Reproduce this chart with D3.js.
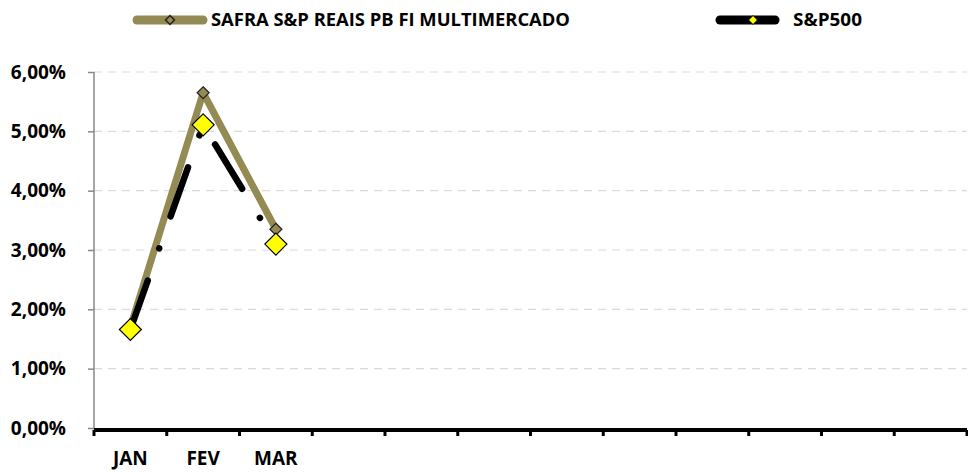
<!DOCTYPE html>
<html><head><meta charset="utf-8">
<script src="https://cdn.jsdelivr.net/npm/d3@7"></script>
<style>body{margin:0;background:#fff}svg{display:block}text{font-family:"Open Sans",sans-serif;font-weight:700;fill:#000}</style>
</head><body>
<svg id="c" width="968" height="472"></svg>
<script>
const months = ["JAN","FEV","MAR","ABR","MAI","JUN","JUL","AGO","SET","OUT","NOV","DEZ"];
const monthLabels = ["JAN","FEV","MAR","","","","","","","","",""];
const safra = [1.70, 5.65, 3.35];
const sp500 = [1.66, 5.11, 3.10];
const yTicks = [0,1,2,3,4,5,6];
const seriesNames = ["SAFRA S&P REAIS PB FI MULTIMERCADO","S&P500"];

const svg = d3.select("#c");
const x = d3.scaleBand().domain(months).range([94, 967]);
const y = d3.scaleLinear().domain([0,6]).range([428, 72]);
const fmt = v => v.toFixed(2).replace(".", ",") + "%";

// gridlines
svg.append("g").selectAll("line").data(yTicks.filter(d=>d>0)).join("line")
  .attr("x1",94).attr("x2",967).attr("y1",d=>y(d)).attr("y2",d=>y(d))
  .attr("stroke","#d9d9d9").attr("stroke-width",1.2).attr("stroke-dasharray","8,6");

// y axis
const ya = svg.append("g").attr("transform","translate(94,0)").call(d3.axisLeft(y).tickValues(yTicks).tickFormat(fmt).tickSize(6).tickPadding(22));
ya.select(".domain").attr("stroke","#888").attr("stroke-width",1.5).attr("d","M0,72V428");
ya.selectAll(".tick line").attr("stroke","#888").attr("stroke-width",1.5);
ya.selectAll(".tick text").style("font-size","19px").attr("fill","#000");

// x axis
const xa = svg.append("g").attr("transform","translate(0,430)");
xa.append("line").attr("x1",94).attr("x2",967).attr("stroke","#000").attr("stroke-width",4);
const bounds = months.map(m=>x(m)).concat([x.range()[1]]);
xa.selectAll(".tk").data(bounds).join("line").attr("class","tk")
  .attr("x1",d=>d).attr("x2",d=>d).attr("y1",0).attr("y2",6).attr("stroke","#000").attr("stroke-width",3);
xa.selectAll(".lb").data(months).join("text").attr("class","lb")
  .attr("x",d=>x(d)+x.bandwidth()/2).attr("y",35).attr("text-anchor","middle").style("font-size","19px")
  .text((d,i)=>monthLabels[i]);

const cx = (d,i)=>x(months[i])+x.bandwidth()/2;
const line = d3.line().x(cx).y(d=>y(d));
const diamond = (s)=>`M0,${-s}L${s},0L0,${s}L${-s},0Z`;

// safra line
svg.append("path").datum(safra).attr("d",line).attr("fill","none")
  .attr("stroke","#948A54").attr("stroke-width",7).attr("stroke-linejoin","round");
// sp line
svg.append("path").datum(sp500).attr("d",line).attr("fill","none")
  .attr("stroke","#000").attr("stroke-width",6.5).attr("stroke-linecap","round")
  .attr("stroke-dasharray","52,34,0.1,34");
// safra markers
svg.append("g").selectAll("path").data(safra).join("path")
  .attr("transform",(d,i)=>`translate(${cx(d,i)},${y(d)})`).attr("d",diamond(6))
  .attr("fill","#948A54").attr("stroke","#222").attr("stroke-width",1.2);
// sp markers
svg.append("g").selectAll("path").data(sp500).join("path")
  .attr("transform",(d,i)=>`translate(${cx(d,i)},${y(d)})`).attr("d",diamond(11))
  .attr("fill","#ffff00").attr("stroke","#000").attr("stroke-width",1.2);

// legend
const lg = svg.append("g");
lg.append("line").attr("x1",137).attr("x2",203).attr("y1",20).attr("y2",20).attr("stroke","#948A54").attr("stroke-width",9).attr("stroke-linecap","round");
lg.append("path").attr("transform","translate(170,20)").attr("d",diamond(4.5)).attr("fill","#948A54").attr("stroke","#222").attr("stroke-width",1.5);
lg.append("text").attr("x",211).attr("y",26).style("font-size","17px").attr("textLength",359).attr("lengthAdjust","spacingAndGlyphs").text(seriesNames[0]);
lg.append("line").attr("x1",720).attr("x2",775).attr("y1",20).attr("y2",20).attr("stroke","#000").attr("stroke-width",9).attr("stroke-linecap","round");
lg.append("path").attr("transform","translate(753,20)").attr("d",diamond(4.5)).attr("fill","#ffff00").attr("stroke","#000").attr("stroke-width",1);
lg.append("text").attr("x",793).attr("y",26).style("font-size","17px").attr("textLength",69).attr("lengthAdjust","spacingAndGlyphs").text(seriesNames[1]);
</script>
</body></html>
